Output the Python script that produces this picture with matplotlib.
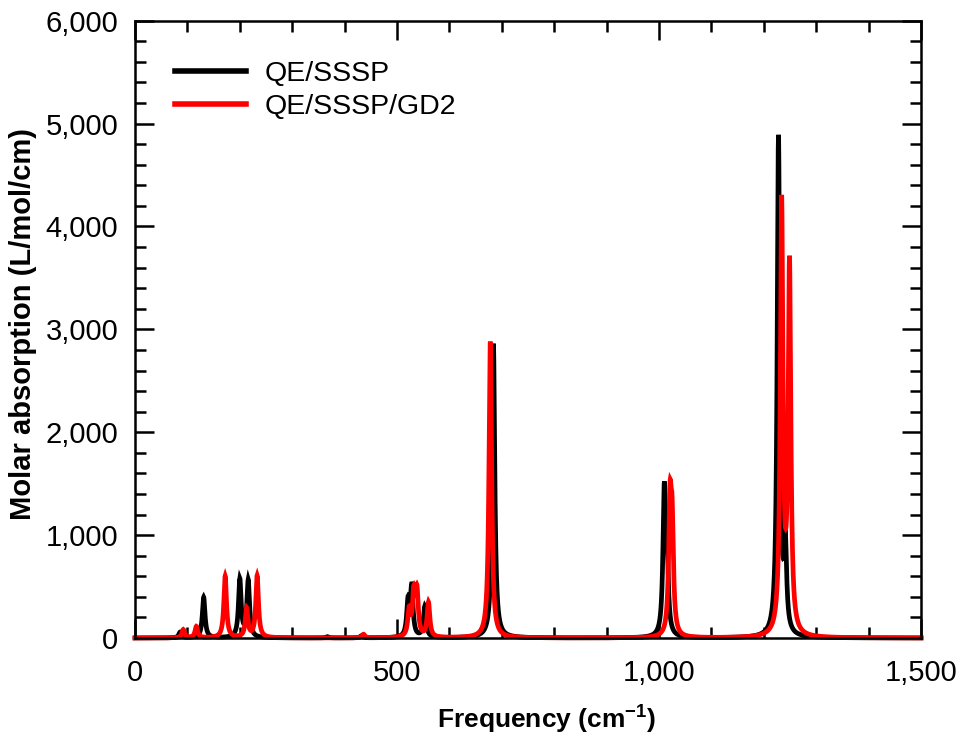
import numpy as np
import matplotlib
matplotlib.use("Agg")
import matplotlib.pyplot as plt
from matplotlib.ticker import FuncFormatter, MultipleLocator
from matplotlib.lines import Line2D

plt.rcParams['font.family'] = ['Liberation Sans', 'DejaVu Sans']
plt.rcParams['mathtext.fontset'] = 'custom'
plt.rcParams['mathtext.rm'] = 'Liberation Sans'
plt.rcParams['mathtext.bf'] = 'Liberation Sans:bold'

# ---- data: peak positions (cm^-1) and peak heights (L/mol/cm) ----
sssp_freq = [86, 131, 200, 216, 367, 432, 521, 528, 553, 684, 1010, 1015, 1228, 1241]
sssp_height = [55, 395, 560, 550, 12, 20, 330, 470, 300, 2860, 1330, 700, 4850, 800]

gd2_freq = [92, 117, 172, 213, 233, 436, 523, 532, 538, 560, 678, 1021, 1025, 1234, 1249]
gd2_height = [80, 110, 600, 280, 600, 35, 250, 400, 420, 335, 2880, 1170, 950, 4170, 3555]

series_labels = ["QE/SSSP", "QE/SSSP/GD2"]
hwhm = 3.0  # Lorentzian half-width used to broaden the stick spectra

x_min, x_max = 0, 1500
y_min, y_max = 0, 6000

freq = np.arange(x_min, x_max + 0.25, 0.25)


def broaden(f0, h):
    y = np.zeros_like(freq)
    for c, a in zip(f0, h):
        y += a / (1.0 + ((freq - c) / hwhm) ** 2)
    return y


y_sssp = broaden(sssp_freq, sssp_height)
y_gd2 = broaden(gd2_freq, gd2_height)

fig = plt.figure(figsize=(9.57, 7.37), dpi=100)
ax = fig.add_axes([0.1411, 0.1343, 0.8213, 0.8376])

lw = 3.4
ax.plot(freq, y_sssp, color='black', lw=lw, clip_on=False, zorder=2.0,
        solid_joinstyle='miter')
ax.plot(freq, y_gd2, color='#ff0000', lw=lw, clip_on=False, zorder=2.1,
        solid_joinstyle='miter')

ax.set_xlim(x_min, x_max)
ax.set_ylim(y_min, y_max)

ax.xaxis.set_major_locator(MultipleLocator(500))
ax.xaxis.set_minor_locator(MultipleLocator(100))
ax.yaxis.set_major_locator(MultipleLocator(1000))
ax.yaxis.set_minor_locator(MultipleLocator(200))
fmt = FuncFormatter(lambda v, p: f"{v:,.0f}")
ax.xaxis.set_major_formatter(fmt)
ax.yaxis.set_major_formatter(fmt)

ax.tick_params(which='both', direction='in', top=True, right=True, width=1.8,
               labelsize=21, colors='black')
ax.tick_params(which='major', length=14)
ax.tick_params(which='minor', length=8)
ax.tick_params(axis='y', which='major', pad=12)
ax.tick_params(axis='x', which='major', pad=15)

for s in ax.spines.values():
    s.set_linewidth(1.8)
    s.set_zorder(5)

ax.set_xlabel(r"Frequency (cm$^{\mathbf{-1}}$)", fontsize=19, fontweight='bold')
ax.xaxis.set_label_coords(0.524, -0.104)
ax.set_ylabel("Molar absorption (L/mol/cm)", fontsize=21, fontweight='bold')
ax.yaxis.set_label_coords(-0.125, 0.508)

handles = [Line2D([], [], color='black', lw=4.0),
           Line2D([], [], color='#ff0000', lw=4.0)]
ax.legend(handles, series_labels, loc='upper left', bbox_to_anchor=(0.051, 0.935),
          frameon=False, fontsize=20.5, handlelength=2.5, handletextpad=0.65,
          borderpad=0, borderaxespad=0, labelspacing=0.25)

fig.savefig("out.png", dpi=100)
